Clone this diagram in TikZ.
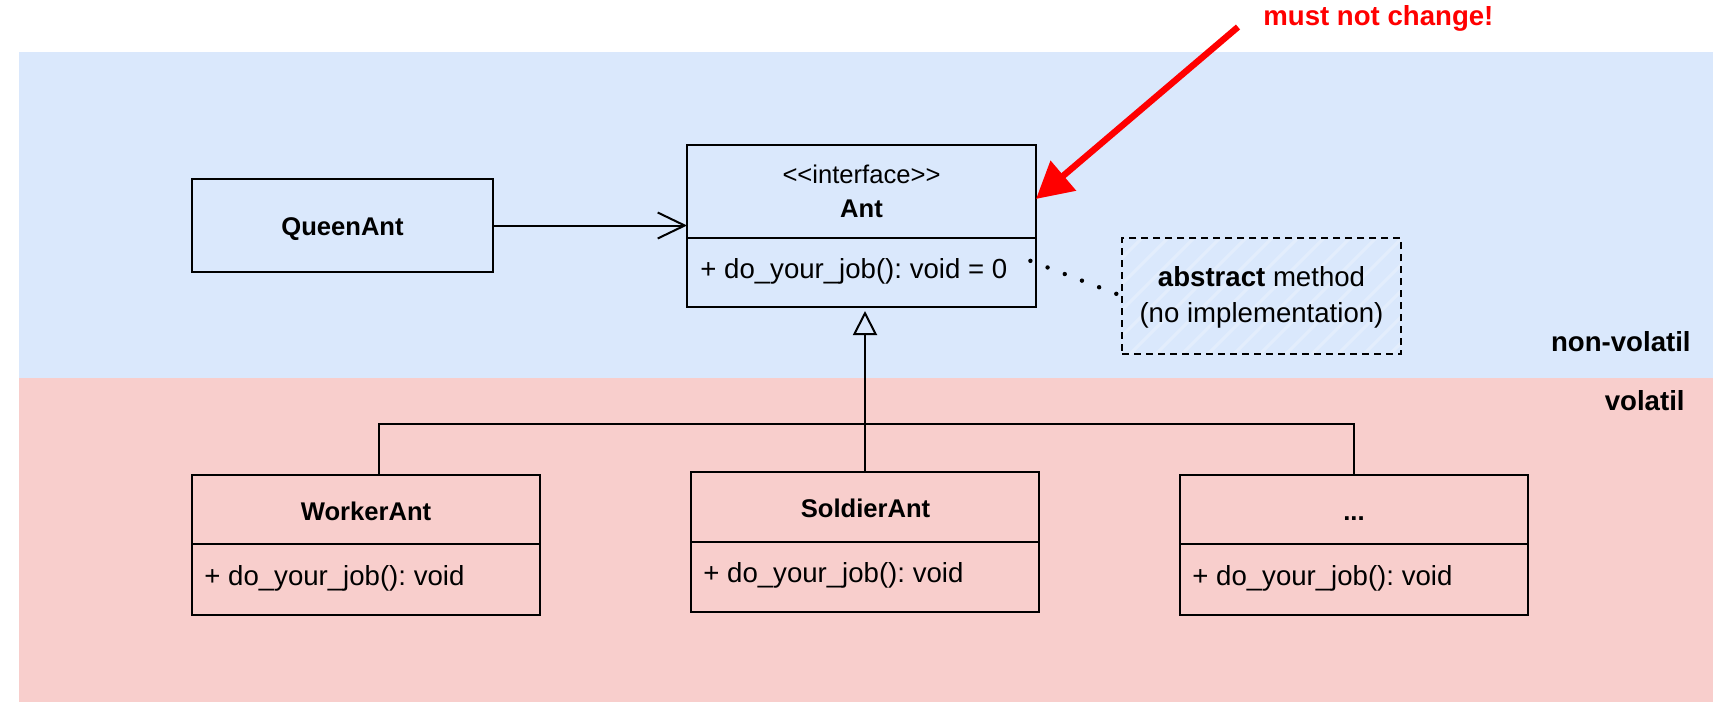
\documentclass[tikz,border=0pt]{standalone}
\usepackage{fontspec}
\setmainfont{Liberation Sans}
\usetikzlibrary{arrows.meta,calc}
\definecolor{bluebg}{HTML}{DAE8FC}
\definecolor{redbg}{HTML}{F8CECC}
\definecolor{alarm}{HTML}{FF0000}
\frenchspacing
\begin{document}
\begin{tikzpicture}[x=0.5pt,y=-0.5pt,
  box/.style={draw=black,line width=1pt,inner sep=0pt,outer sep=0pt,anchor=north west},
  classbox/.style={box,minimum width=174pt,minimum height=70pt},
  title/.style={font=\fontsize{12.8}{15}\selectfont\bfseries,anchor=base,inner sep=0pt},
  stereo/.style={font=\fontsize{12.8}{15}\selectfont,anchor=base,inner sep=0pt},
  meth/.style={font=\fontsize{13.8}{16}\selectfont,anchor=base west,inner sep=0pt},
  notetext/.style={font=\fontsize{13.8}{16}\selectfont,anchor=base,inner sep=0pt},
  zonelabel/.style={font=\fontsize{13.8}{16}\selectfont\bfseries,anchor=base east,inner sep=0pt},
  conn/.style={line width=1pt,draw=black},
  dotline/.style={line width=2.2pt,line cap=round,dash pattern=on 0pt off 9.2pt},
  redarrow/.style={draw=alarm,fill=alarm,line width=3.2pt,-{Triangle[length=18pt,width=19pt]}},
]
\useasboundingbox (0,0) rectangle (1731,714);
% zones
\fill[bluebg] (18.8,52) rectangle (1713,377.6);
\fill[redbg] (18.8,377.6) rectangle (1713,702);
\node[zonelabel] (nonvol) at (1691,351) {non-volatil};
\node[zonelabel] (vol) at (1685,410) {volatil};

% QueenAnt
\node[box,minimum width=150.5pt,minimum height=46.5pt] (queen) at (192,179) {};
\node[title] (queent) at (342.5,235) {QueenAnt};

% Ant interface
\node[box,minimum width=174.5pt,minimum height=81pt] (ant) at (687,145) {};
\draw[conn] (ant.west |- 0,238) -- (ant.east |- 0,238);
\node[stereo] (antst) at (861.5,183) {<{}<interface>{}>};
\node[title] (antt) at (861.5,217) {Ant};
\node[meth] (antm) at (700,278) {+ do\_your\_job(): void = 0};

% note
\node[box,dash pattern=on 3.5pt off 2.5pt,minimum width=139.5pt,minimum height=58pt] (note) at (1122,238) {};
\begin{scope}
  \clip (note.south west) rectangle (note.north east);
  \foreach \i in {1000,1026,...,1420}
    \draw[white,opacity=0.25,line width=1.5pt] (\i,354) -- ++(116,-116);
\end{scope}
\node[box,dash pattern=on 3.5pt off 2.5pt,minimum width=139.5pt,minimum height=58pt] (notebd) at (1122,238) {};
\node[notetext] (note1) at (1261.5,286.5) {\textbf{abstract} method};
\node[notetext] (note2) at (1261.5,322.5) {(no implementation)};

% subclasses
\node[classbox] (worker) at (192,475) {};
\draw[conn] (worker.west |- 0,544) -- (worker.east |- 0,544);
\node[title] (workert) at (366,520) {WorkerAnt};
\node[meth] (workerm) at (204,585) {+ do\_your\_job(): void};

\node[classbox] (soldier) at (691,472) {};
\draw[conn] (soldier.west |- 0,542) -- (soldier.east |- 0,542);
\node[title] (soldiert) at (865.5,517) {SoldierAnt};
\node[meth] (soldierm) at (703,582) {+ do\_your\_job(): void};

\node[classbox] (dots) at (1180,475) {};
\draw[conn] (dots.west |- 0,544) -- (dots.east |- 0,544);
\node[title] (dotst) at (1354,520) {...};
\node[meth] (dotsm) at (1192,585) {+ do\_your\_job(): void};

% connectors
\draw[conn,-{Straight Barb[length=13.5pt,width=13pt]}] (queen.east) -- (ant.west |- queen.east);
\draw[conn,shorten >=2pt,-{Triangle[open,length=12pt,width=12pt]}] (soldier.north) -- (ant.south -| soldier.north);
\draw[conn] (worker.north -| 379,0) |- (dots.north |- 0,424) -- (dots.north);
\draw[dotline,shorten <=-3pt] (ant.east |- 0,263) -- (note.west);

% red annotation
\coordinate (redtail) at (1238,27);
\draw[redarrow] (redtail) -- ($(ant.north east)!0.333!(ant.south east)$);
\node[anchor=base west,inner sep=0pt,text=alarm,font=\fontsize{13.8}{16}\selectfont\bfseries] (warn) at (1263,25) {must not change!};
\end{tikzpicture}
\end{document}
